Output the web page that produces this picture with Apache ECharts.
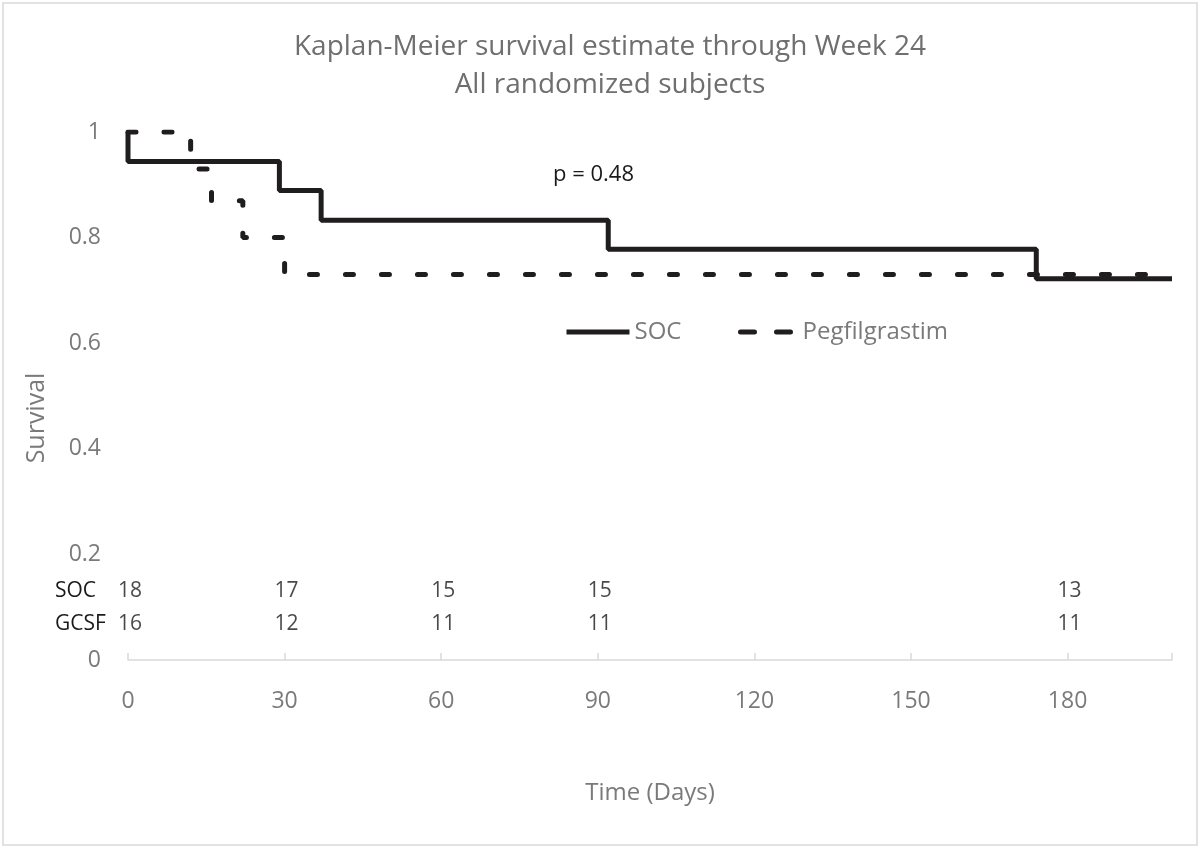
<!DOCTYPE html>
<html>
<head>
<meta charset="utf-8">
<script src="https://cdn.jsdelivr.net/npm/echarts@6/dist/echarts.min.js"></script>
<style>
html,body{margin:0;padding:0;background:#fff;}
#chart{width:1201px;height:849px;}
</style>
</head>
<body>
<div id="chart"></div>
<script>
// Kaplan-Meier step data (time in days, survival)
var socTimes = [0, 0, 29, 37, 92, 174, 200];
var socSurvival = [1, 0.944, 0.889, 0.833, 0.778, 0.722, 0.722];
var pegTimes = [0, 12, 16, 22, 30, 200];
var pegSurvival = [1, 0.93, 0.87, 0.80, 0.73, 0.73];

// Number at risk table
var riskTimes = [0, 30, 60, 90, 180];
var socAtRisk = [18, 17, 15, 15, 13];
var gcsfAtRisk = [16, 12, 11, 11, 11];
var riskRowLabels = ['SOC', 'GCSF'];

var seriesNames = ['SOC', 'Pegfilgrastim'];
var pValueText = 'p = 0.48';
var titleLines = ['Kaplan-Meier survival estimate through Week 24', 'All randomized subjects'];
var yAxisTitle = 'Survival';
var xAxisTitle = 'Time (Days)';

var FONT = '"Open Sans"';
var GRAY = '#7a7a7a';
var INK = '#201d1e';

function zip(xs, ys) { return xs.map(function (x, i) { return [x, ys[i]]; }); }

var legendBase = {
  top: 320,
  padding: 0,
  itemHeight: 20,
  textStyle: { color: GRAY, fontSize: 24, fontFamily: FONT },
  itemStyle: { color: 'transparent', borderWidth: 0, opacity: 0 },
  lineStyle: { width: 5 }
};

var chart = echarts.init(document.getElementById('chart'));
var option = {
  backgroundColor: '#fff',
  animation: false,
  textStyle: { fontFamily: FONT },
  title: {
    text: titleLines.join('\n'),
    left: 605,
    top: 23,
    padding: 5,
    textAlign: 'center',
    textStyle: { color: '#6f6f6f', fontSize: 28, fontWeight: 'normal', fontFamily: FONT, lineHeight: 38 }
  },
  legend: [
    Object.assign({}, legendBase, {
      data: [seriesNames[0]],
      left: 564,
      itemWidth: 63,
      lineStyle: { width: 5, type: 'solid' }
    }),
    Object.assign({}, legendBase, {
      data: [seriesNames[1]],
      left: 735,
      itemWidth: 60,
      lineStyle: { width: 5, type: [14, 22], cap: 'round', dashOffset: -3 }
    })
  ],
  grid: { left: 128, right: 29, top: 132, bottom: 189, containLabel: false },
  xAxis: {
    type: 'value',
    min: 0, max: 200, interval: 30,
    name: xAxisTitle,
    nameLocation: 'middle',
    nameGap: 121,
    nameTextStyle: { color: GRAY, fontSize: 24, fontFamily: FONT },
    axisLine: { show: true, lineStyle: { color: '#d9d9d9', width: 1.5 } },
    axisTick: { show: true, inside: true, length: 7, lineStyle: { color: '#d9d9d9', width: 1.5 } },
    axisLabel: {
      color: GRAY, fontSize: 23, margin: 30, fontFamily: FONT,
      formatter: function (v) { return v <= 180 ? String(v) : ''; }
    },
    splitLine: { show: false }
  },
  yAxis: {
    type: 'value',
    min: 0, max: 1, interval: 0.2,
    axisLine: { show: false },
    axisTick: { show: false },
    axisLabel: { color: GRAY, fontSize: 23, margin: 27, fontFamily: FONT },
    splitLine: { show: false }
  },
  series: [
    {
      name: seriesNames[0],
      type: 'line',
      step: 'end',
      data: zip(socTimes, socSurvival),
      symbol: 'none',
      lineStyle: { color: INK, width: 5 },
      itemStyle: { color: INK },
      z: 3
    },
    {
      name: seriesNames[1],
      type: 'line',
      step: 'end',
      data: zip(pegTimes, pegSurvival),
      symbol: 'none',
      lineStyle: { color: INK, width: 5, type: [8, 28], cap: 'round' },
      itemStyle: { color: INK },
      z: 4
    },
    {
      type: 'scatter',
      silent: true,
      symbolSize: 0,
      data: riskTimes.map(function (t, i) { return [t, 0.1326, socAtRisk[i]]; }),
      label: { show: true, position: 'inside', offset: [2, 1], color: '#1a1a1a', fontSize: 21, fontFamily: FONT,
        formatter: function (p) { return p.value[2]; } }
    },
    {
      type: 'scatter',
      silent: true,
      symbolSize: 0,
      data: riskTimes.map(function (t, i) { return [t, 0.070, gcsfAtRisk[i]]; }),
      label: { show: true, position: 'inside', offset: [2, 1], color: '#1a1a1a', fontSize: 21, fontFamily: FONT,
        formatter: function (p) { return p.value[2]; } }
    }
  ],
  graphic: [
    { type: 'rect', shape: { x: 3, y: 3, width: 1194, height: 842 }, style: { fill: 'none', stroke: '#d9d9d9', lineWidth: 1.5 }, silent: true },
    { type: 'text', x: 37, y: 418, rotation: Math.PI / 2, style: { text: yAxisTitle, fill: GRAY, fontSize: 25, fontFamily: FONT, align: 'center', verticalAlign: 'middle' } },
    { type: 'text', x: 553, y: 175, style: { text: pValueText, fill: '#1a1a1a', fontSize: 22, fontFamily: FONT, verticalAlign: 'middle' } },
    { type: 'text', x: 55, y: 591, style: { text: riskRowLabels[0], fill: '#1a1a1a', fontSize: 21, fontFamily: FONT, verticalAlign: 'middle' } },
    { type: 'text', x: 55, y: 624, style: { text: riskRowLabels[1], fill: '#1a1a1a', fontSize: 21, fontFamily: FONT, verticalAlign: 'middle' } }
  ]
};
chart.setOption(option);
</script>
</body>
</html>
